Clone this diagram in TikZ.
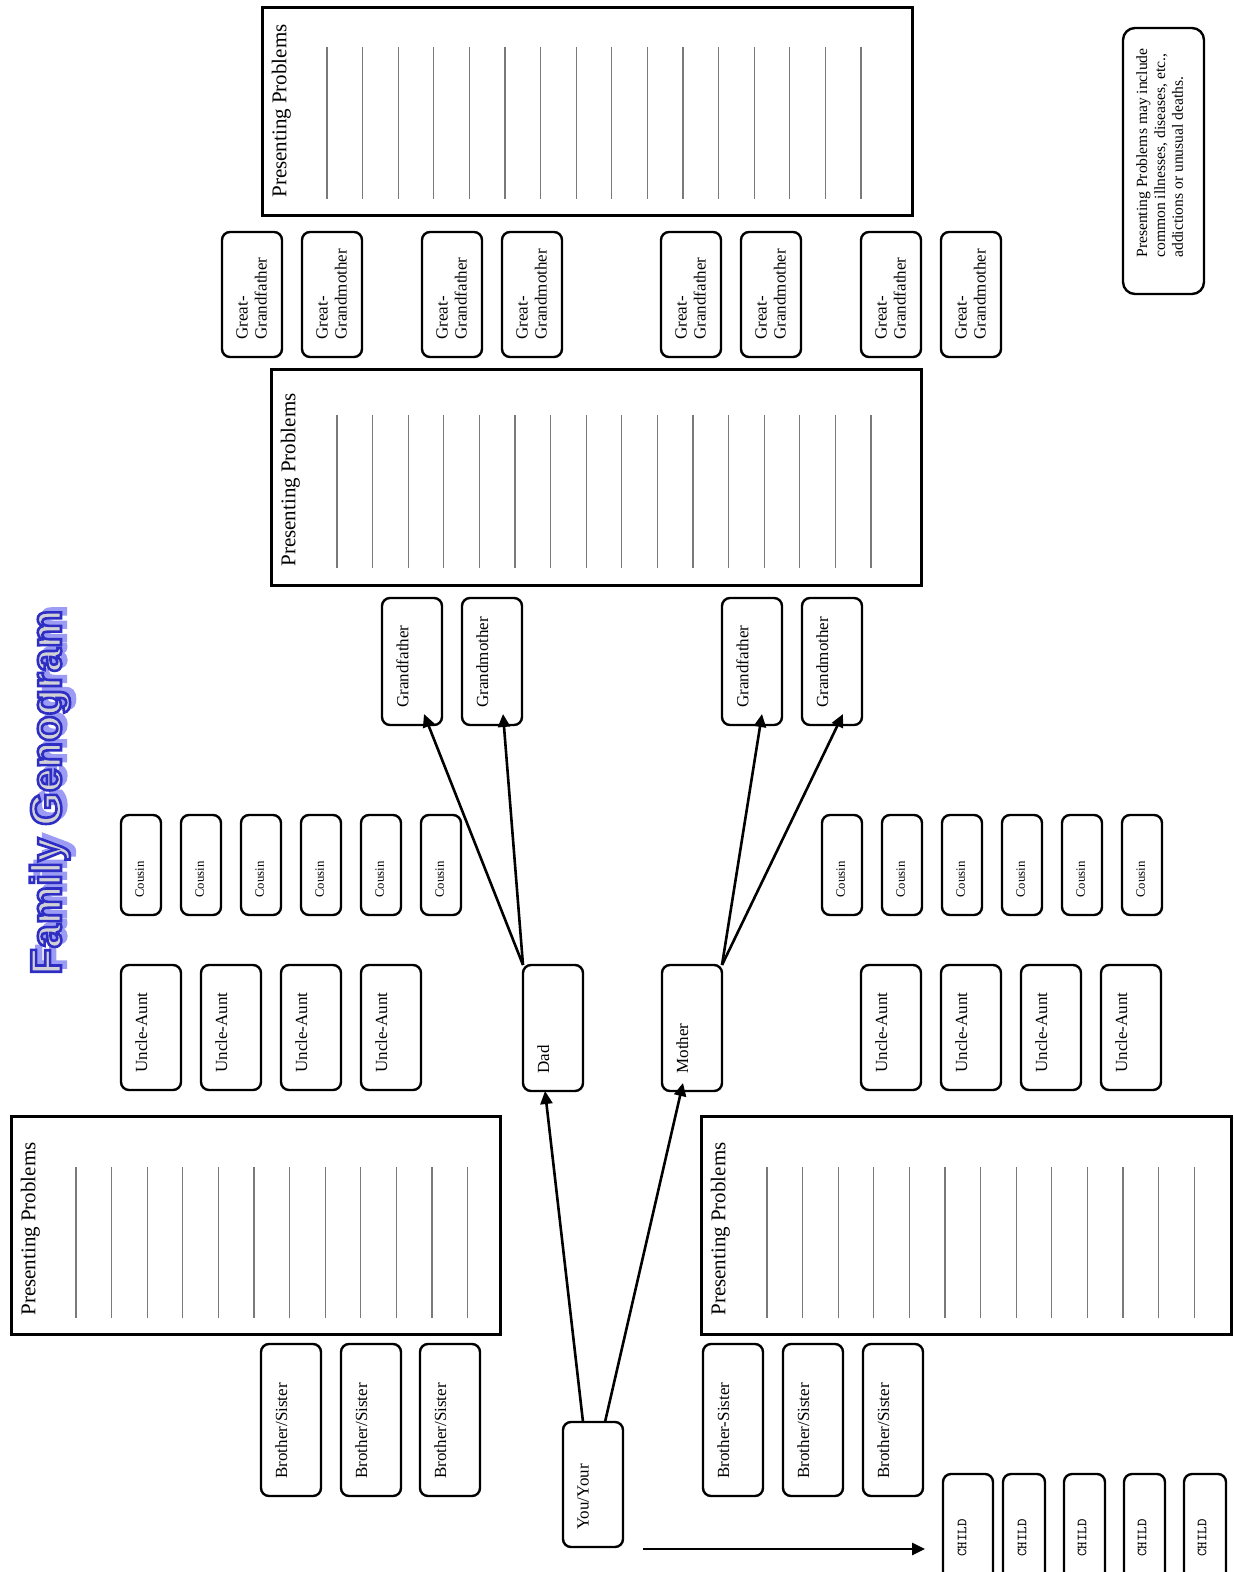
\documentclass[tikz,border=0pt]{standalone}
\usepackage{fontspec}
\setmainfont{Liberation Serif}
\newfontfamily\titlefont{Liberation Sans}
\usetikzlibrary{arrows.meta,calc}
\definecolor{ruleg}{HTML}{7A7A7A}
\definecolor{titlegray}{HTML}{D2D2D6}
\definecolor{titleblue}{HTML}{2E2EC4}
\definecolor{shadowblue}{HTML}{9C9CF4}
\tikzset{
  rbox/.style={draw,line width=1.2pt,rounded corners=4pt,inner sep=0pt,outer sep=0pt,fill=white},
  pbox/.style={draw,line width=1.5pt,inner sep=0pt,outer sep=0pt},
  rl/.style={draw=ruleg,line width=0.65pt},
  lbl/.style={rotate=90,anchor=north west,inner sep=0pt,align=left,font=\fontsize{8.5}{9.5}\selectfont},
  ptxt/.style={rotate=90,anchor=north west,inner sep=0pt,font=\fontsize{10.5}{12}\selectfont},
  arr/.style={-{Triangle[length=6.5pt,width=6pt]},line width=1.3pt},
  ttl/.style={rotate=90,anchor=base west,inner sep=0pt,font=\titlefont\bfseries\fontsize{21.6}{24}\selectfont},
  childtxt/.style={rotate=90,inner sep=0pt,font=\ttfamily\fontsize{7}{8}\selectfont}
}
% rounded box with label: name, x1, y1, x2, y2, text
\newcommand\rb[6]{%
  \node[rbox,minimum width={(#4-#2)*0.5pt},minimum height={(#5-#3)*0.5pt}] (#1) at ({(#2+#4)/2},{(#3+#5)/2}) {};
  \node[lbl] (#1-t) at ([xshift=7pt,yshift=8.5pt]#1.south west) {#6};}
% presenting problems box: name, x1, y1, x2, y2, first line x, count, line y1, line y2
\newcommand\pb[9]{%
  \node[pbox,minimum width={(#4-#2)*0.5pt},minimum height={(#5-#3)*0.5pt}] (#1) at ({(#2+#4)/2},{(#3+#5)/2}) {};
  \node[ptxt] (#1-t) at ([xshift=4.7pt,yshift=9pt]#1.south west) {Presenting Problems};
  \foreach \k in {1,...,#7} {\draw[rl] ({#6+35.6*(\k-1)},#8) -- ({#6+35.6*(\k-1)},#9);}}
\begin{document}
\begin{tikzpicture}[x=0.5pt,y=-0.5pt]
\useasboundingbox (0,0) rectangle (1233,1572);
\clip (0,0) rectangle (1233,1572);
\fill[white] (0,0) rectangle (1233,1572);

% title
\coordinate (tpos) at (61,975);
\node[ttl,text=shadowblue] (title-sh) at ([xshift=2.5pt,yshift=2pt]tpos) {\special{pdf:literal direct 1.2 w 2 Tr}Family Genogram\special{pdf:literal direct 0 Tr}};
\node[ttl,text=titlegray] (title) at (tpos) {\special{pdf:literal direct 0.18 0.18 0.77 RG 1.3 w 2 Tr}Family Genogram\special{pdf:literal direct 0 Tr}};

% presenting problems boxes
\pb{pp1}{262}{8}{912}{216}{327}{16}{47}{199}
\pb{pp2}{271}{370}{921}{585}{337}{16}{415}{568}
\pb{pp3}{11}{1116}{500}{1334}{76}{12}{1167}{1318}
\pb{pp4}{701}{1116}{1231}{1334}{767}{13}{1167}{1318}

% legend
\node[rbox,rounded corners=6pt,minimum width=40.5pt,minimum height=133pt] (leg) at (1163.5,161) {};
\node[rotate=90,anchor=north west,align=left,inner sep=0pt,font=\fontsize{7.8}{8.9}\selectfont] (leg-t) at (1136,258) {Presenting Problems may include\\common illnesses, diseases, etc.,\\addictions or unusual deaths.};

% great-grandparents
\rb{g1}{222}{232}{282}{357}{Great-\\Grandfather}
\rb{g2}{302}{232}{362}{357}{Great-\\Grandmother}
\rb{g3}{422}{232}{482}{357}{Great-\\Grandfather}
\rb{g4}{502}{232}{562}{357}{Great-\\Grandmother}
\rb{g5}{661}{232}{721}{357}{Great-\\Grandfather}
\rb{g6}{741}{232}{801}{357}{Great-\\Grandmother}
\rb{g7}{861}{232}{921}{357}{Great-\\Grandfather}
\rb{g8}{941}{232}{1001}{357}{Great-\\Grandmother}

% grandparents
\rb{dgf}{382}{598}{442}{725}{Grandfather}
\rb{dgm}{462}{598}{522}{725}{Grandmother}
\rb{mgf}{722}{598}{782}{725}{Grandfather}
\rb{mgm}{802}{598}{862}{725}{Grandmother}

% cousins
\foreach \x [count=\i] in {121,181,241,301,361,421} {
  \rb{cl\i}{\x}{815}{\x+40}{915}{\fontsize{6.4}{7}\selectfont Cousin}}
\foreach \x [count=\i] in {822,882,942,1002,1062,1122} {
  \rb{cr\i}{\x}{815}{\x+40}{915}{\fontsize{6.4}{7}\selectfont Cousin}}

% uncles and aunts
\foreach \x [count=\i] in {121,201,281,361} {
  \rb{ul\i}{\x}{965}{\x+60}{1090}{Uncle-Aunt}}
\foreach \x [count=\i] in {861,941,1021,1101} {
  \rb{ur\i}{\x}{965}{\x+60}{1090}{Uncle-Aunt}}

% parents
\rb{dad}{523}{965}{583}{1091}{Dad}
\rb{mother}{662}{965}{722}{1091}{Mother}

% siblings
\rb{bl1}{261}{1344}{321}{1496}{Brother/Sister}
\rb{bl2}{341}{1344}{401}{1496}{Brother/Sister}
\rb{bl3}{420}{1344}{480}{1496}{Brother/Sister}
\rb{br1}{703}{1344}{763}{1496}{Brother-Sister}
\rb{br2}{783}{1344}{843}{1496}{Brother/Sister}
\rb{br3}{863}{1344}{923}{1496}{Brother/Sister}

% you
\rb{you}{563}{1422}{623}{1547}{You/Your}

% children
\foreach \x/\w/\tx [count=\i] in {943/50/962,1003/42/1022,1064/41/1082,1124/41/1142,1184/42/1202} {
  \node[rbox,minimum width={\w*0.5pt},minimum height=63pt] (c\i) at ({\x+\w/2},1537) {};
  \node[childtxt] (c\i-t) at (\tx,1538) {CHILD};}

% connectors
\draw[arr] ([xshift=10pt]you.north west) -- ([xshift=11pt]dad.south west);
\draw[arr] ([xshift=21pt]you.north west) -- ([xshift=10.5pt,yshift=4pt]mother.south west);
\draw[arr] (dad.north west) -- ([xshift=21pt,yshift=5.5pt]dgf.south west);
\draw[arr] (dad.north west) -- ([xshift=20.5pt,yshift=5.5pt]dgm.south west);
\draw[arr] (mother.north east) -- ([xshift=20pt,yshift=5.5pt]mgf.south west);
\draw[arr] (mother.north east) -- ([xshift=20.5pt,yshift=5.5pt]mgm.south west);
\coordinate (ca) at (643,1549);
\draw[arr,shorten >=9pt] (ca) -- (ca -| c1.west);
\end{tikzpicture}
\end{document}
